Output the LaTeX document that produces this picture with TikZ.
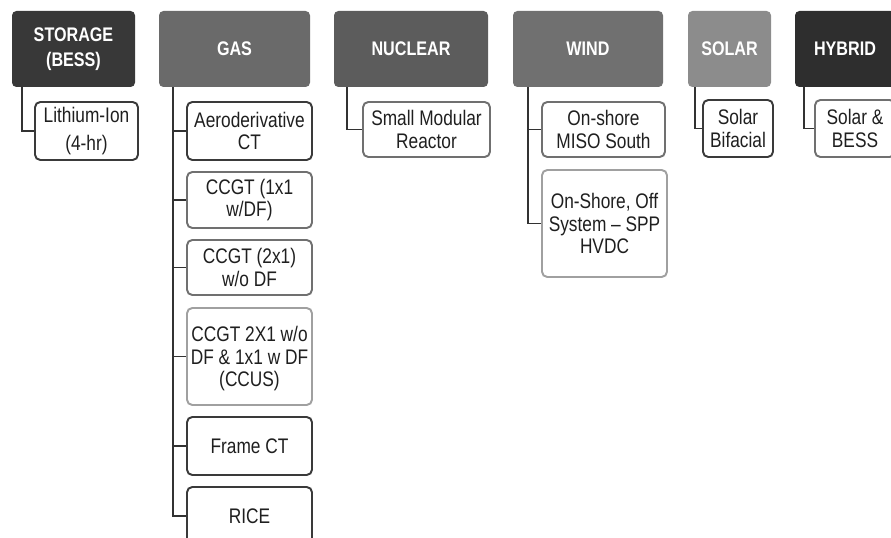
\documentclass[tikz,border=0pt]{standalone}
\usepackage{fontspec}
\setmainfont{Liberation Sans}[FakeStretch=0.82]
\usetikzlibrary{positioning}
\definecolor{hdStor}{RGB}{56,56,56}
\definecolor{hdGas}{RGB}{106,106,106}
\definecolor{hdNuc}{RGB}{92,92,92}
\definecolor{hdWind}{RGB}{112,112,112}
\definecolor{hdSolar}{RGB}{140,140,140}
\definecolor{hdHyb}{RGB}{46,46,46}
\definecolor{edDark}{RGB}{58,58,58}
\definecolor{edMid}{RGB}{112,112,112}
\definecolor{edLight}{RGB}{160,160,160}
\definecolor{lnGray}{RGB}{50,50,50}

\begin{document}
\begin{tikzpicture}[
  hdr/.style={rectangle, rounded corners=2.5pt, inner sep=0pt, minimum height=1.52cm,
    text=white, align=center, font=\fontsize{11.2}{14}\selectfont\bfseries},
  leaf/.style={rectangle, rounded corners=3pt, draw=edDark, line width=1.1pt, fill=white,
    inner sep=0pt, minimum height=1.16cm, text=black!88, align=center,
    font=\fontsize{12}{13}\selectfont},
  conn/.style={draw=lnGray, line width=1.1pt}]
  \useasboundingbox (0,0) rectangle (17.82,10.74);
  \clip (0,0) rectangle (17.82,10.74);

  % Headers
  \node[hdr, fill=hdStor, minimum width=2.46cm] (storage) at (1.47,9.76) {STORAGE\\(BESS)};
  \node[hdr, fill=hdGas, minimum width=3.02cm] (gas) at (4.69,9.76) {GAS};
  \node[hdr, fill=hdNuc, minimum width=3.08cm] (nuclear) at (8.22,9.76) {NUCLEAR};
  \node[hdr, fill=hdWind, minimum width=3.00cm] (wind) at (11.76,9.76) {WIND};
  \node[hdr, fill=hdSolar, minimum width=1.66cm] (solar) at (14.59,9.76) {SOLAR};
  \node[hdr, fill=hdHyb, minimum width=2.00cm] (hybrid) at (16.90,9.76) {HYBRID};

  % Storage column
  \node[leaf, minimum width=2.06cm] (lithium) at (1.73,8.12) {Lithium-Ion\\[3pt](4-hr)};

  % Gas column
  \node[leaf, minimum width=2.50cm] (aero) at (4.99,8.12) {Aeroderivative\\CT};
  \node[leaf, draw=edMid, minimum width=2.50cm, minimum height=1.12cm] (ccgtA) at (4.99,6.74) {CCGT (1x1\\w/DF)};
  \node[leaf, draw=edMid, minimum width=2.50cm, minimum height=1.10cm] (ccgtB) at (4.99,5.39) {CCGT (2x1)\\w/o DF};
  \node[leaf, draw=edLight, minimum width=2.50cm, minimum height=1.94cm, text depth=-0.15cm] (ccus) at (4.99,3.61) {CCGT 2X1 w/o\\DF \& 1x1 w DF\\(CCUS)};
  \node[leaf, minimum width=2.50cm] (frame) at (4.99,1.82) {Frame CT};
  \node[leaf, minimum width=2.50cm] (rice) at (4.99,0.42) {RICE};

  % Nuclear column
  \node[leaf, draw=edMid, minimum width=2.54cm, minimum height=1.10cm] (smr) at (8.53,8.15) {Small Modular\\Reactor};

  % Wind column
  \node[leaf, draw=edMid, minimum width=2.46cm, minimum height=1.10cm] (onshore) at (12.07,8.15) {On-shore\\MISO South};
  \node[leaf, draw=edLight, minimum width=2.50cm, minimum height=2.14cm] (offsys) at (12.09,6.27) {On-Shore, Off\\System -- SPP\\HVDC};

  % Solar and hybrid columns
  \node[leaf, minimum width=1.40cm, minimum height=1.14cm] (bifacial) at (14.76,8.17) {Solar\\Bifacial};
  \node[leaf, draw=edMid, minimum width=1.60cm, minimum height=1.14cm] (solbess) at (17.10,8.17) {Solar \&\\BESS};

  % Connectors
  \draw[conn] ([xshift=0.2cm]storage.south west) |- (lithium.west);
  \draw[conn] ([xshift=0.28cm]gas.south west) |- (aero.west);
  \draw[conn] ([xshift=0.28cm]gas.south west) |- (ccgtA.west);
  \draw[conn] ([xshift=0.28cm]gas.south west) |- (ccgtB.west);
  \draw[conn] ([xshift=0.28cm]gas.south west) |- (ccus.west);
  \draw[conn] ([xshift=0.28cm]gas.south west) |- (frame.west);
  \draw[conn] ([xshift=0.28cm]gas.south west) |- (rice.west);
  \draw[conn] ([xshift=0.26cm]nuclear.south west) |- (smr.west);
  \draw[conn] ([xshift=0.3cm]wind.south west) |- (onshore.west);
  \draw[conn] ([xshift=0.3cm]wind.south west) |- (offsys.west);
  \draw[conn] ([xshift=0.14cm]solar.south west) |- (bifacial.west);
  \draw[conn] ([xshift=0.18cm]hybrid.south west) |- (solbess.west);
\end{tikzpicture}
\end{document}
